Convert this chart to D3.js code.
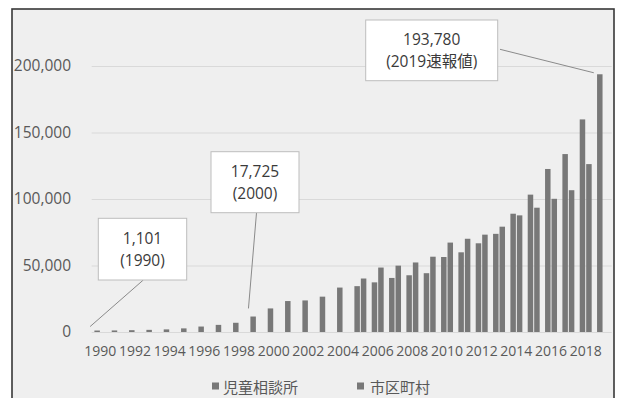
<!DOCTYPE html>
<html>
<head>
<meta charset="utf-8">
<script src="https://cdn.jsdelivr.net/npm/d3@7"></script>
<style>
  html, body { margin: 0; padding: 0; background: #ffffff; }
  svg { display: block; font-family: "Open Sans", "Noto Sans CJK JP", sans-serif; }
</style>
</head>
<body>
<svg id="chart" width="625" height="398"></svg>
<script>
// Child-abuse consultation counts (件), fiscal years 1990–2019
const years = ["1990","1991","1992","1993","1994","1995","1996","1997","1998","1999",
               "2000","2001","2002","2003","2004","2005","2006","2007","2008","2009",
               "2010","2011","2012","2013","2014","2015","2016","2017","2018","2019"];

// 児童相談所 (child guidance centres)
const jidouSoudanjo = [1101, 1171, 1372, 1611, 1961, 2722, 4102, 5352, 6932, 11631,
                       17725, 23274, 23738, 26569, 33408, 34472, 37323, 40639, 42664, 44211,
                       56384, 59919, 66701, 73802, 88931, 103286, 122575, 133778, 159838, 193780];

// 市区町村 (municipalities), reported from 2005 onward
const shikuchoson = [null, null, null, null, null, null, null, null, null, null,
                     null, null, null, null, null, 40222, 48457, 49895, 52282, 56607,
                     67232, 70102, 73200, 79186, 87694, 93458, 100147, 106615, 126246, null];

const seriesNames = ["児童相談所", "市区町村"];
const xTickLabels = ["1990","1992","1994","1996","1998","2000","2002","2004",
                     "2006","2008","2010","2012","2014","2016","2018"];
const yTicks = [0, 50000, 100000, 150000, 200000];

// Call-out boxes: the bar they refer to and the text shown
const calloutYears = ["1990", "2000", "2019"];
const calloutLines = [["1,101", "(1990)"], ["17,725", "(2000)"], ["193,780", "(2019速報値)"]];

const svg = d3.select("#chart");

// Frame and panel background
svg.append("rect")
  .attr("x", 12).attr("y", 9).attr("width", 602).attr("height", 420)
  .attr("fill", "#efefef").attr("stroke", "#383838").attr("stroke-width", 1.6);

const plot = { left: 91.7, right: 611.7, top: 66, bottom: 332 };

const x = d3.scaleBand().domain(years)
  .range([plot.left, plot.right])
  .paddingInner(0.31).paddingOuter(0.155);
const xs = d3.scaleBand().domain(seriesNames)
  .range([0, x.bandwidth()]).paddingInner(0.15);
const y = d3.scaleLinear().domain([0, 200000]).range([plot.bottom, plot.top]);

// Horizontal gridlines
const grid = svg.append("g")
  .attr("transform", `translate(${plot.left},0)`)
  .call(d3.axisLeft(y).tickValues(yTicks).tickSize(-(plot.right - plot.left)).tickFormat(""));
grid.select(".domain").remove();
grid.selectAll("line").attr("stroke", "#d9d9d9").attr("stroke-width", 1);

// Y axis labels
const yAxis = svg.append("g")
  .attr("transform", "translate(71,0)")
  .call(d3.axisLeft(y).tickValues(yTicks).tickSize(0).tickPadding(0).tickFormat(d3.format(",")));
yAxis.select(".domain").remove();
yAxis.selectAll("text")
  .attr("font-family", "'Open Sans', sans-serif")
  .attr("font-size", 15.5).attr("fill", "#595959");

// X axis labels (every other year)
const xAxis = svg.append("g")
  .attr("transform", `translate(0,${plot.bottom})`)
  .call(d3.axisBottom(x).tickValues(xTickLabels).tickSize(0).tickPadding(14));
xAxis.select(".domain").remove();
xAxis.selectAll("text")
  .attr("font-family", "'Open Sans', sans-serif")
  .attr("font-size", 14).attr("fill", "#595959");

// Bars
const seriesValues = [jidouSoudanjo, shikuchoson];
const barColors = ["#787878", "#787878"];
const rows = [];
seriesValues.forEach((vals, si) => {
  vals.forEach((v, i) => {
    if (v != null) rows.push({ year: years[i], series: seriesNames[si], value: v, si });
  });
});

svg.append("g").selectAll("rect")
  .data(rows)
  .join("rect")
  .attr("x", d => x(d.year) + xs(d.series))
  .attr("y", d => y(d.value))
  .attr("width", xs.bandwidth())
  .attr("height", d => y(0) - y(d.value))
  .attr("fill", d => barColors[d.si]);

// Call-out boxes with leader lines
const boxLayout = [
  { x: 98.3, y: 218.3, w: 88.4, h: 61.7, from: [143.3, 280], nudge: [-7, -4] },
  { x: 211, y: 151.7, w: 88, h: 61, from: [256.5, 212.7], nudge: [-22, 0] },
  { x: 365.7, y: 20, w: 132, h: 60.7, from: [500, 49.3], nudge: [-6, -1.5] }
];

calloutYears.forEach((yr, k) => {
  const b = boxLayout[k];
  const i = years.indexOf(yr);
  const v = jidouSoudanjo[i];
  const tx = x(yr) + xs(seriesNames[0]) + xs.bandwidth() / 2 + b.nudge[0];
  const ty = y(v) + b.nudge[1];

  svg.append("line")
    .attr("x1", b.from[0]).attr("y1", b.from[1])
    .attr("x2", tx).attr("y2", ty)
    .attr("stroke", "#8a8a8a").attr("stroke-width", 1);

  svg.append("rect")
    .attr("x", b.x).attr("y", b.y).attr("width", b.w).attr("height", b.h)
    .attr("fill", "#ffffff").attr("stroke", "#bdbdbd").attr("stroke-width", 1);

  const cx = b.x + b.w / 2;
  const cy = b.y + b.h / 2;
  calloutLines[k].forEach((t, j) => {
    svg.append("text")
      .attr("x", cx)
      .attr("y", cy + (j === 0 ? -10.8 : 10.8))
      .attr("dy", "0.36em")
      .attr("text-anchor", "middle")
      .attr("font-size", 15.5)
      .attr("fill", "#3a3a3a")
      .text(t);
  });
});

// Legend
const legendX = [212, 357];
seriesNames.forEach((name, i) => {
  svg.append("rect")
    .attr("x", legendX[i]).attr("y", 382.5)
    .attr("width", 7).attr("height", 7)
    .attr("fill", barColors[i]);
  svg.append("text")
    .attr("x", legendX[i] + 11 + (i === 1 ? 2 : 0))
    .attr("y", 386)
    .attr("dominant-baseline", "central")
    .attr("font-family", "'Noto Sans CJK JP', sans-serif")
    .attr("font-size", 15)
    .attr("fill", "#595959")
    .text(name);
});
</script>
</body>
</html>
